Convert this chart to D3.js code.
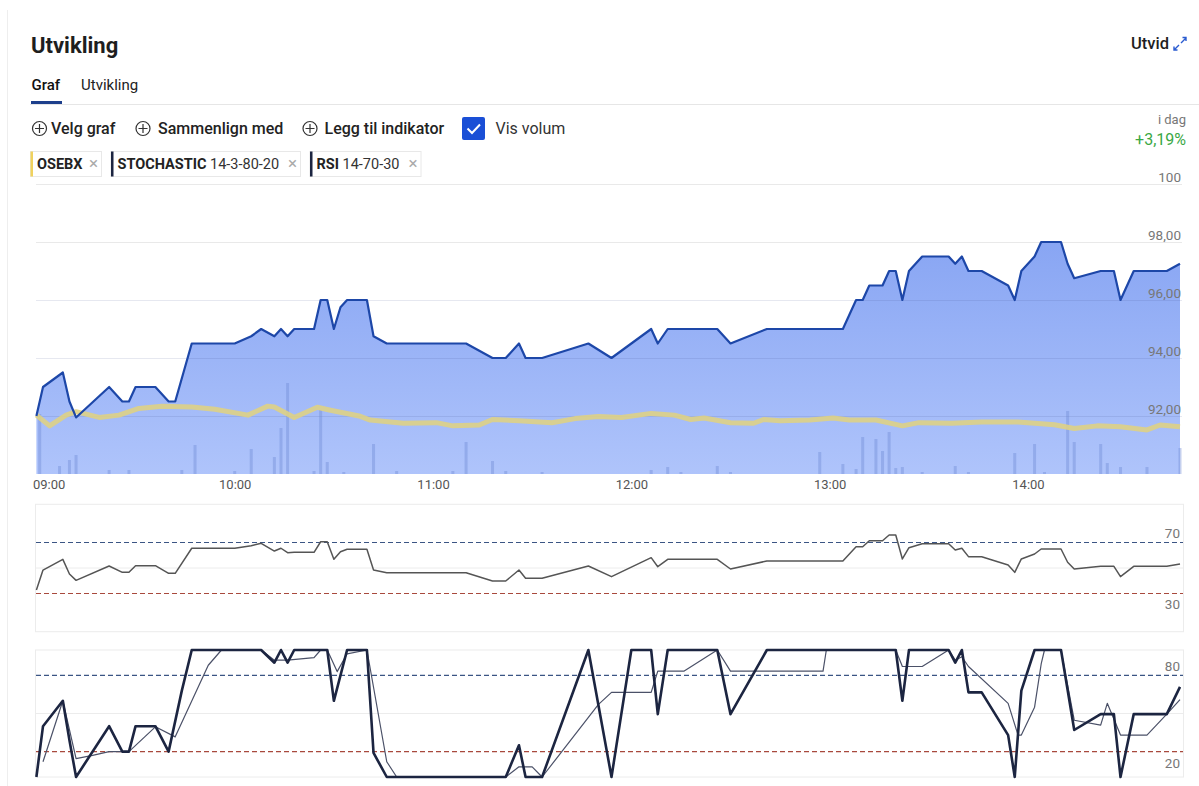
<!DOCTYPE html>
<html>
<head>
<meta charset="utf-8">
<script src="https://cdn.jsdelivr.net/npm/d3@7"></script>
<style>
  body { margin: 0; background: #fff; }
  svg text { font-family: Roboto, "Noto Sans", sans-serif; }
</style>
</head>
<body>
<svg id="chart" width="1199" height="786"></svg>
<script>
// values (intraday, 09:00 - 14:46)
var priceTimes = ["09:00","09:02","09:08","09:10","09:12","09:22","09:26","09:28","09:30","09:36","09:40","09:42","09:47",
  "10:00","10:05","10:08","10:12","10:14","10:16","10:18","10:24","10:26","10:28","10:30","10:32","10:34","10:40","10:42","10:46",
  "11:10","11:18","11:22","11:26","11:28","11:33","11:47","11:54","12:06","12:08","12:11","12:26","12:30","12:41",
  "13:04","13:08","13:10","13:12","13:16","13:18","13:20","13:22","13:24","13:28","13:36","13:38","13:40","13:42","13:46","13:54","13:56","13:58",
  "14:02","14:04","14:10","14:12","14:14","14:22","14:26","14:28","14:32","14:42","14:46"];
var priceValues = [92.0,93.0,93.5,92.5,91.95,93.0,92.5,92.5,93.0,93.0,92.5,92.5,94.5,
  94.5,94.75,95.0,94.75,95.0,94.75,95.0,95.0,96.0,96.0,95.0,95.75,96.0,96.0,94.75,94.5,
  94.5,94.0,94.0,94.5,94.0,94.0,94.5,94.0,95.0,94.5,95.0,95.0,94.5,95.0,
  95.0,96.0,96.0,96.5,96.5,97.0,97.0,96.0,97.0,97.5,97.5,97.25,97.5,97.0,97.0,96.5,96.0,97.0,
  97.5,98.0,98.0,97.25,96.75,97.0,97.0,96.0,97.0,97.0,97.25];
// RSI 14 on the same timestamps as the price
var rsiValues = [32.7,48.4,56.8,45.3,40.3,51.6,46.6,46.6,51.8,51.8,45.8,45.8,65.5,
  65.5,67.5,69.4,63.3,65.5,62.0,62.3,62.3,70.6,70.6,56.8,62.8,64.7,64.7,48.4,46.3,
  46.3,39.8,39.8,48.4,41.9,41.9,51.6,43.2,58.1,51.0,56.8,56.8,49.2,55.5,
  55.5,66.7,66.7,71.4,71.4,75.9,75.9,57.1,65.9,69.1,69.1,64.1,65.5,58.9,58.9,52.4,46.6,57.1,
  61.0,64.9,64.9,54.5,49.2,51.3,51.3,43.2,51.3,51.3,53.1];

var osebxTimes = ["09:00","09:04","09:09","09:12","09:19","09:25","09:31","09:38","09:47","09:54",
  "10:04","10:10","10:12","10:18","10:25","10:29","10:38","10:41","10:51","11:01",
  "11:06","11:14","11:18","11:26","11:36","11:43","11:50","11:57","12:06","12:13",
  "12:18","12:22","12:30","12:37","12:40","12:45","12:54","13:01","13:06","13:14",
  "13:22","13:27","13:37","13:46","13:57","14:08","14:14","14:21","14:28","14:36","14:40","14:46"];
var osebxValues = [92.03,91.66,92.03,92.15,91.95,92.03,92.26,92.34,92.31,92.23,
  92.03,92.34,92.31,91.95,92.30,92.2,91.99,91.86,91.75,91.77,
  91.66,91.69,91.88,91.84,91.77,91.91,91.98,91.95,92.09,92.03,
  91.88,91.93,91.77,91.75,91.88,91.84,91.86,91.93,91.86,91.86,
  91.66,91.77,91.75,91.79,91.79,91.70,91.57,91.66,91.63,91.52,91.69,91.63];

var volumeTimes = ["09:01","09:07","09:10","09:12","09:22","09:28","09:44","09:48","10:00","10:05","10:12","10:14","10:16",
  "10:24","10:26","10:28","10:33","10:42","10:49","11:06","11:10","11:18","11:22","11:33","12:06","12:11","12:15",
  "12:26","12:30","12:57","13:04","13:08","13:10","13:14","13:16","13:18","13:20","13:22","13:28","13:38","13:42",
  "13:56","14:02","14:05","14:12","14:14","14:22","14:24","14:28","14:36","14:46"];
var volumeValues = [60,8,14,19,4,4,4,29,3,25,17,46,91,
  3,64,12,2,30,3,3,32,13,3,2,4,7,2,
  8,2,22,10,5,37,35,23,42,6,7,2,8,2,
  21,30,2,63,32,30,11,7,7,26];

var stochKTimes = ["09:00","09:02","09:08","09:10","09:12","09:22","09:26","09:28","09:30","09:36","09:40","09:44","09:47",
  "10:08","10:12","10:14","10:16","10:18","10:28","10:30","10:32","10:34","10:40","10:42","10:46",
  "11:22","11:26","11:28","11:33","11:47","11:54","12:00","12:06","12:08","12:11","12:26","12:30","12:41",
  "13:20","13:22","13:24","13:36","13:38","13:40","13:42","13:46","13:54","13:56","13:58",
  "14:02","14:10","14:14","14:22","14:26","14:28","14:32","14:42","14:46"];
var stochK = [0,40,60,29,0,40,20,20,40,40,20,68,100,
  100,90,100,90,100,100,60,80,100,100,19,0,
  0,25,0,0,100,0,100,100,49.5,100,100,49.5,100,
  100,60,100,100,90,100,66.6,66.6,33,0,68,
  100,100,37,49.5,49.5,0,49.5,49.5,71];
var stochDTimes = ["09:02","09:08","09:12","09:17","09:22","09:28","09:36","09:42","09:52","09:56",
  "10:08","10:12","10:16","10:24","10:26","10:28","10:31","10:34","10:40","10:46","10:49",
  "11:22","11:26","11:30","11:33","11:50","11:54","12:06","12:08","12:16","12:26","12:30","12:58","12:59",
  "13:20","13:22","13:28","13:36","13:38","13:40","13:42","13:54","13:57","13:58",
  "14:02","14:04","14:05","14:10","14:14","14:22","14:24","14:28","14:36","14:42","14:46"];
var stochD = [12,60,14.5,17,20,20,39.5,31.6,88,100,
  100,92,92,94,100,100,83,97,100,12,0,
  0,8,8,0,57,66.6,66.6,83.4,83.4,100,83.4,83.4,100,
  100,87,87,100,92,94.7,87,58,33,33,
  55,89,100,100,44.7,40.8,58,33,33,49.5,61];

var priceTicks = [92, 94, 96, 98, 100];
var rsiLevels = [70, 30];
var stochLevels = [80, 20];

var parseTime = d3.timeParse("%H:%M");
var svg = d3.select("#chart");
var font = "Roboto, 'Noto Sans', sans-serif";

// ---------- header / toolbar ----------
svg.append("line").attr("x1", 7.5).attr("x2", 7.5).attr("y1", 10).attr("y2", 786)
  .attr("stroke", "#eeeeee");

svg.append("text").attr("x", 31).attr("y", 53).text("Utvikling")
  .attr("font-size", 22).attr("font-weight", 700).attr("fill", "#1e1e1e");

svg.append("text").attr("x", 1169).attr("y", 49).attr("text-anchor", "end").text("Utvid")
  .attr("font-size", 16.5).attr("font-weight", 500).attr("fill", "#1e1e1e");
var ico = svg.append("g").attr("stroke", "#2a5bd0").attr("stroke-width", 1.4).attr("fill", "none");
ico.append("path").attr("d", "M1181,43 L1186,38 M1182.5,37.5 H1186 V41");
ico.append("path").attr("d", "M1179,45 L1174,50 M1174,46.5 V50 H1177.5");

svg.append("text").attr("x", 31.5).attr("y", 89.5).text("Graf")
  .attr("font-size", 15).attr("font-weight", 500).attr("fill", "#111");
svg.append("text").attr("x", 81).attr("y", 89.5).text("Utvikling")
  .attr("font-size", 15).attr("fill", "#222");
svg.append("rect").attr("x", 31).attr("y", 101).attr("width", 31).attr("height", 3).attr("fill", "#1d3f8c");
svg.append("line").attr("x1", 30).attr("x2", 1199).attr("y1", 104.5).attr("y2", 104.5).attr("stroke", "#e6e6e6");

// toolbar buttons: icon centre and text start
var tools = [{cx: 39.5, tx: 51, label: "Velg graf"}, {cx: 143, tx: 158, label: "Sammenlign med"}, {cx: 310, tx: 324.5, label: "Legg til indikator"}];
tools.forEach(function(t){
  var g = svg.append("g").attr("stroke", "#333").attr("stroke-width", 1.2).attr("fill", "none");
  g.append("circle").attr("cx", t.cx).attr("cy", 128.5).attr("r", 7);
  g.append("path").attr("d", "M" + (t.cx - 4.5) + ",128.5 H" + (t.cx + 4.5) + " M" + t.cx + ",124 V133");
  svg.append("text").attr("x", t.tx).attr("y", 133.5).text(t.label)
    .attr("font-size", 16).attr("font-weight", 500).attr("fill", "#222");
});
svg.append("rect").attr("x", 462).attr("y", 117).attr("width", 23).attr("height", 23).attr("rx", 2).attr("fill", "#1a4fd6");
svg.append("path").attr("d", "M467.5,128.5 L472,133 L480,124.5").attr("stroke", "#fff").attr("stroke-width", 2).attr("fill", "none");
svg.append("text").attr("x", 495.5).attr("y", 133.5).text("Vis volum").attr("font-size", 16).attr("fill", "#333");

svg.append("text").attr("x", 1186).attr("y", 124).attr("text-anchor", "end").text("i dag")
  .attr("font-size", 13).attr("fill", "#777");
svg.append("text").attr("x", 1186).attr("y", 145).attr("text-anchor", "end").text("+3,19%")
  .attr("font-size", 16).attr("fill", "#3aa845");

// indicator chips
var chips = [
  {x: 30.5, w: 71, bar: "#f0d25e", bold: "OSEBX", rest: ""},
  {x: 111, w: 189.5, bar: "#1c2541", bold: "STOCHASTIC", rest: " 14-3-80-20"},
  {x: 310, w: 111, bar: "#1c2541", bold: "RSI", rest: " 14-70-30"}
];
chips.forEach(function(c){
  var g = svg.append("g");
  g.append("rect").attr("x", c.x).attr("y", 151.5).attr("width", c.w).attr("height", 25)
    .attr("fill", "#fff").attr("stroke", "#e8e8e8");
  g.append("rect").attr("x", c.x).attr("y", 151.5).attr("width", 2.5).attr("height", 25).attr("fill", c.bar);
  var t = g.append("text").attr("x", c.x + 6.5).attr("y", 169).attr("font-size", 14.5).attr("fill", "#222");
  t.append("tspan").attr("font-weight", 700).text(c.bold);
  t.append("tspan").attr("fill", "#333").text(c.rest);
  g.append("text").attr("x", c.x + c.w - 3.5).attr("y", 169).attr("text-anchor", "end").text("\u00d7")
    .attr("font-size", 17).attr("fill", "#aaa");
});

// ---------- scales ----------
var x = d3.scaleTime().domain([parseTime("09:00"), parseTime("14:46")]).range([36.4, 1180]);
var yPrice = d3.scaleLinear().domain([90, 100]).range([474, 184]);
var yVol = d3.scaleLinear().domain([0, 100]).range([474, 374]);
var yRsi = d3.scaleLinear().domain([0, 100]).range([631.7, 504.3]);
var yStoch = d3.scaleLinear().domain([0, 100]).range([777, 650]);

var price = priceTimes.map(function(t, i){ return {t: parseTime(t), v: priceValues[i], r: rsiValues[i]}; });
var osebx = osebxTimes.map(function(t, i){ return {t: parseTime(t), v: osebxValues[i]}; });
var vol = volumeTimes.map(function(t, i){ return {t: parseTime(t), v: volumeValues[i]}; });
var kData = stochKTimes.map(function(t, i){ return {t: parseTime(t), v: stochK[i]}; });
var dData = stochDTimes.map(function(t, i){ return {t: parseTime(t), v: stochD[i]}; });

// ---------- main price panel ----------
var defs = svg.append("defs");
var grad = defs.append("linearGradient").attr("id", "fillGrad")
  .attr("gradientUnits", "userSpaceOnUse").attr("x1", 0).attr("x2", 0).attr("y1", 240).attr("y2", 474);
grad.append("stop").attr("offset", 0).attr("stop-color", "#88a5f3");
grad.append("stop").attr("offset", 1).attr("stop-color", "#afc4fb");

var area = d3.area().x(function(d){ return x(d.t); }).y0(yPrice(90)).y1(function(d){ return yPrice(d.v); });
svg.append("path").datum(price).attr("d", area).attr("fill", "url(#fillGrad)");

svg.append("g").selectAll("line").data(priceTicks).join("line")
  .attr("x1", 36).attr("x2", 1182)
  .attr("y1", function(d){ return yPrice(d) + 0.5; }).attr("y2", function(d){ return yPrice(d) + 0.5; })
  .attr("stroke", function(d){ return d >= 98 ? "#e9e9e9" : "rgba(60,80,140,0.13)"; });

svg.append("g").selectAll("rect").data(vol).join("rect")
  .attr("x", function(d){ return x(d.t) - 1.5; }).attr("width", 3)
  .attr("y", function(d){ return yVol(d.v); })
  .attr("height", function(d){ return yVol(0) - yVol(d.v); })
  .attr("fill", "#6f8ad4").attr("opacity", 0.4);

var osebxLine = d3.line().x(function(d){ return x(d.t); }).y(function(d){ return yPrice(d.v); });
svg.append("path").datum(osebx).attr("d", osebxLine).attr("fill", "none")
  .attr("stroke", "#dfd282").attr("stroke-width", 5).attr("stroke-linejoin", "round").attr("opacity", 0.88);

var priceLine = d3.line().x(function(d){ return x(d.t); }).y(function(d){ return yPrice(d.v); });
svg.append("path").datum(price).attr("d", priceLine).attr("fill", "none")
  .attr("stroke", "#1d47a8").attr("stroke-width", 2.2).attr("stroke-linejoin", "round");

var fmtPrice = function(d){ return d === 100 ? "100" : d3.format(".2f")(d).replace(".", ","); };
var pAxis = svg.append("g").attr("transform", "translate(1181,0)")
  .call(d3.axisLeft(yPrice).tickValues(priceTicks).tickSize(0).tickPadding(0).tickFormat(fmtPrice));
pAxis.select(".domain").remove();
pAxis.selectAll("text").attr("dy", "-0.2em").attr("font-size", 13.5).attr("fill", "#777").attr("font-family", font);

var tAxis = svg.append("g").attr("transform", "translate(0,474)")
  .call(d3.axisBottom(x).ticks(d3.timeHour.every(1)).tickSize(0).tickPadding(6).tickFormat(d3.timeFormat("%H:%M")));
tAxis.select(".domain").remove();
tAxis.selectAll("text").attr("font-size", 13).attr("fill", "#555").attr("font-family", font);
tAxis.selectAll("text").filter(function(d, i){ return i === 0; }).attr("text-anchor", "start").attr("x", -4);

// ---------- indicator panels ----------
function panel(y, levels, lines) {
  var y0 = y.range()[0], y1 = y.range()[1];
  svg.append("rect").attr("x", 35.5).attr("y", y1).attr("width", 1148).attr("height", y0 - y1)
    .attr("fill", "none").attr("stroke", "#ececec");
  svg.append("line").attr("x1", 36).attr("x2", 1183).attr("y1", y(50)).attr("y2", y(50)).attr("stroke", "#ececec");
  svg.append("g").selectAll("line").data(levels).join("line")
    .attr("x1", 36).attr("x2", 1183)
    .attr("y1", function(d){ return y(d); }).attr("y2", function(d){ return y(d); })
    .attr("stroke", function(d, i){ return i === 0 ? "#3b5584" : "#a8493d"; })
    .attr("stroke-width", 1.1).attr("stroke-dasharray", "5,3");
  var ax = svg.append("g").attr("transform", "translate(1180,0)")
    .call(d3.axisLeft(y).tickValues(levels).tickSize(0).tickPadding(0));
  ax.select(".domain").remove();
  ax.selectAll("text").attr("font-size", 13.5).attr("fill", "#777").attr("font-family", font)
    .attr("dy", function(d, i){ return i === 0 ? "-0.35em" : "1.15em"; });
  lines.forEach(function(l){
    svg.append("path").datum(l.data)
      .attr("d", d3.line().x(function(d){ return x(d.t); }).y(function(d){ return y(d[l.key]); }))
      .attr("fill", "none").attr("stroke", l.color).attr("stroke-width", l.width).attr("stroke-linejoin", "round");
  });
}

panel(yRsi, rsiLevels, [{data: price, key: "r", color: "#555", width: 1.5}]);
panel(yStoch, stochLevels, [
  {data: dData, key: "v", color: "#4b5168", width: 1.2},
  {data: kData, key: "v", color: "#1c2541", width: 2.6}
]);
</script>
</body>
</html>
